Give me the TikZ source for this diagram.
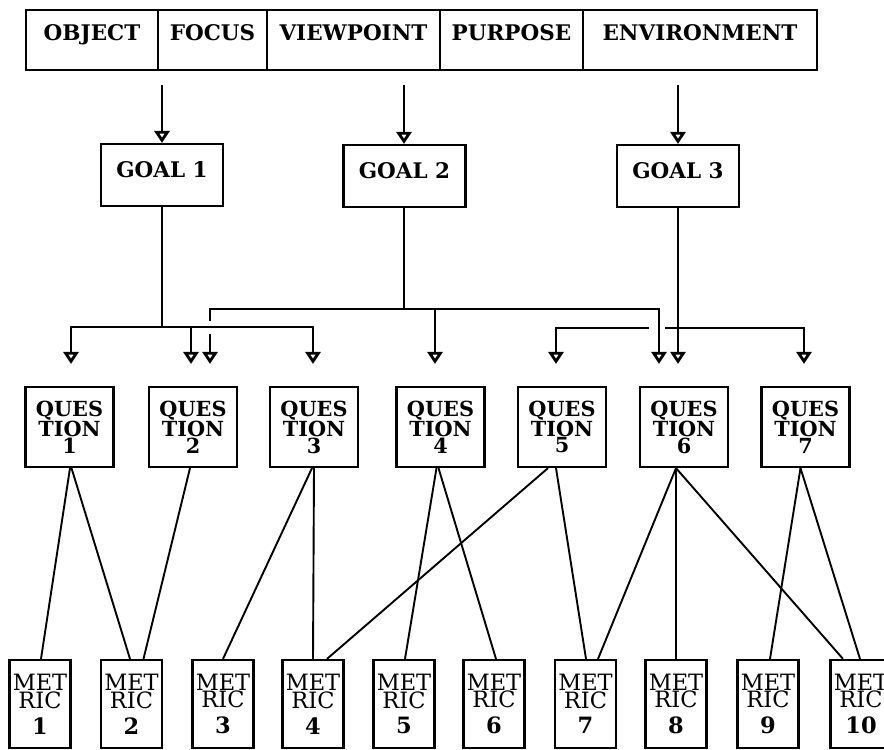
\documentclass[tikz,border=0pt]{standalone}
\usepackage{fontspec}
\setmainfont{DejaVu Serif}
\usetikzlibrary{arrows.meta}
\begin{document}
\begin{tikzpicture}[x=1pt,y=-1pt,
  framed/.style={draw, line width=2.2pt, inner sep=0pt, align=center},
  tbcell/.style={framed, minimum height=60pt, text height=15pt, text depth=15pt,
    font=\fontsize{21.5}{21.5}\selectfont\bfseries},
  goalnode/.style={framed, minimum width=122pt, minimum height=62pt, text height=16pt,
    text depth=11pt, font=\fontsize{21.5}{21.5}\selectfont\bfseries},
  qnode/.style={framed, minimum width=88pt, minimum height=80pt,
    font=\fontsize{20.8}{15}\selectfont\bfseries},
  mnode/.style={framed, minimum width=61pt, minimum height=88pt,
    font=\fontsize{22.5}{16}\selectfont},
  rule/.style={line width=2.6pt},
  feedarrow/.style={rule, -{Triangle[open,length=12pt,width=15pt,line width=2.8pt]}},
  qmlink/.style={line width=1.9pt},
]
\useasboundingbox (0,0) rectangle (884,750);

% characterisation bar
\node[tbcell, minimum width=132pt] (obj) at (92,40)    {OBJECT};
\node[tbcell, minimum width=109pt] (foc) at (212.5,40) {FOCUS};
\node[tbcell, minimum width=173pt] (vie) at (353.5,40) {VIEWPOINT};
\node[tbcell, minimum width=143pt] (pur) at (511.5,40) {PURPOSE};
\node[tbcell, minimum width=234pt] (env) at (700,40)   {ENVIRONMENT};

% goals
\node[goalnode] (g1) at (162,175)   {GOAL 1};
\node[goalnode] (g2) at (404.5,176) {GOAL 2};
\node[goalnode] (g3) at (678,176)   {GOAL 3};

% questions
\node[qnode] (q1) at (69.5,427)  {QUES\\TION\\1};
\node[qnode] (q2) at (193,427)   {QUES\\TION\\2};
\node[qnode] (q3) at (314,427)   {QUES\\TION\\3};
\node[qnode] (q4) at (440.5,427) {QUES\\TION\\4};
\node[qnode] (q5) at (562,427)   {QUES\\TION\\5};
\node[qnode] (q6) at (684,427)   {QUES\\TION\\6};
\node[qnode] (q7) at (805.5,427) {QUES\\TION\\7};

% metrics
\foreach \i/\x in {1/40,2/131.5,3/223,4/313,5/404,6/494,7/585.5,8/676,9/768,10/861}
  \node[mnode] (m\i) at (\x,704) {MET\\RIC\\[8pt]{\bfseries\i}};

% from the bar to the goals
\coordinate (s1) at (162,85);
\coordinate (s2) at (404,85);
\coordinate (s3) at (678,85);
\draw[feedarrow] (s1) -- (s1 |- g1.north);
\draw[feedarrow] (s2) -- (s2 |- g2.north);
\draw[feedarrow] (s3) -- (s3 |- g3.north);

% goal 1 to its questions
\coordinate (b1) at (162,327);
\draw[rule] (b1 |- g1.south) -- (b1);
\draw[feedarrow, shorten >=22pt] (b1) -| ([xshift=1.5pt]q1.north);
\draw[feedarrow, shorten >=22pt] (b1) -| ([xshift=-2pt]q2.north);
\draw[feedarrow, shorten >=22pt] (b1) -| ([xshift=-1pt]q3.north);

% goal 2 to its questions (broken where it passes the goal 1 bar)
\coordinate (b2) at (404,309);
\coordinate (j1) at (210,321);
\coordinate (j2) at (210,334);
\draw[rule] (b2 |- g2.south) -- (b2);
\draw[rule] (b2) -| (j1);
\draw[feedarrow, shorten >=22pt] (j2) -- ([xshift=17pt]q2.north);
\draw[feedarrow, shorten >=22pt] (b2) -| ([xshift=-5.5pt]q4.north);
\draw[feedarrow, shorten >=22pt] (b2) -| ([xshift=-25pt]q6.north);

% goal 3 to its questions (bar broken where goal 2 passes)
\coordinate (b3) at (678,328);
\coordinate (k1) at (665,328);
\coordinate (k2) at (649,328);
\draw[feedarrow, shorten >=22pt] (g3.south) -- (g3.south |- q6.north);
\draw[rule] (b3) -- (k1);
\draw[feedarrow, shorten >=22pt] (k2) -| ([xshift=-6pt]q5.north);
\draw[feedarrow, shorten >=22pt] (b3) -| ([xshift=-1.5pt]q7.north);

% questions to metrics
\draw[qmlink] ([xshift=0.5pt]q1.south) -- ([xshift=1pt]m1.north);
\draw[qmlink] ([xshift=2pt]q1.south)   -- ([xshift=-1.5pt]m2.north);
\draw[qmlink] ([xshift=-3pt]q2.south)  -- ([xshift=12pt]m2.north);
\draw[qmlink] ([xshift=-2pt]q3.south)  -- (m3.north);
\draw[qmlink] (q3.south)               -- (m4.north);
\draw[qmlink] ([xshift=-4pt]q4.south)  -- ([xshift=1pt]m5.north);
\draw[qmlink] ([xshift=-2pt]q4.south)  -- ([xshift=2pt]m6.north);
\draw[qmlink] ([xshift=-14pt]q5.south) -- ([xshift=14pt]m4.north);
\draw[qmlink] ([xshift=-6pt]q5.south)  -- ([xshift=0.5pt]m7.north);
\draw[qmlink] ([xshift=-8pt]q6.south)  -- ([xshift=12.5pt]m7.north);
\draw[qmlink] ([xshift=-8pt]q6.south)  -- (m8.north);
\draw[qmlink] ([xshift=-8pt]q6.south)  -- ([xshift=-18pt]m10.north);
\draw[qmlink] ([xshift=-5pt]q7.south)  -- ([xshift=2pt]m9.north);
\draw[qmlink] ([xshift=-5pt]q7.south)  -- ([xshift=-1pt]m10.north);
\end{tikzpicture}
\end{document}
